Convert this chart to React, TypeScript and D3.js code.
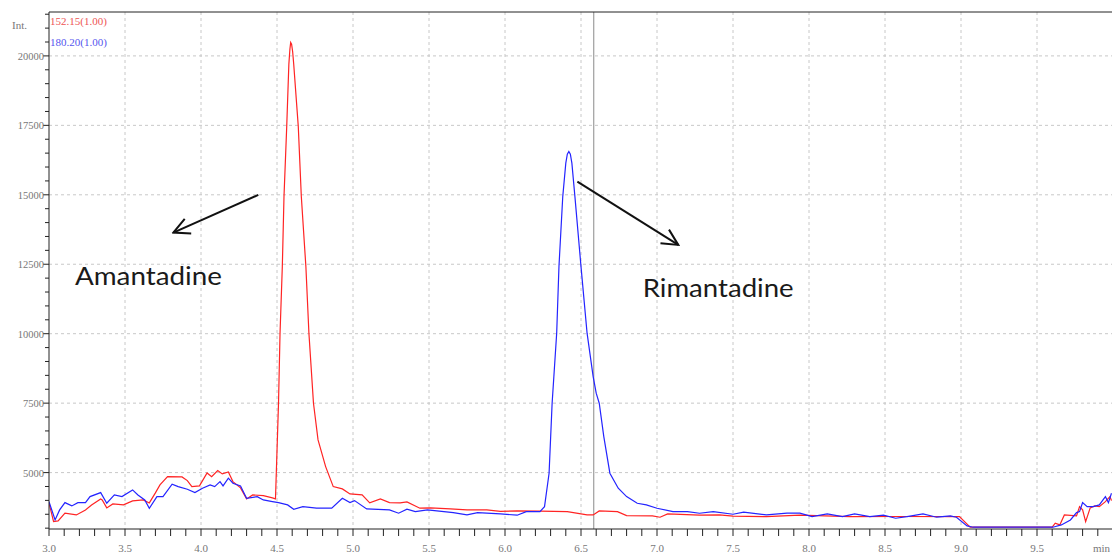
import React from "react";
import * as d3 from "d3";

// ---- data (time in min, intensity) ----
const redTime = [3.0,3.03,3.06,3.105,3.18,3.24,3.28,3.34,3.35,3.38,3.42,3.49,3.55,3.62,3.66,3.7,3.73,3.78,3.875,3.91,3.94,3.99,4.04,4.07,4.11,4.14,4.18,4.21,4.26,4.3,4.34,4.41,4.47,4.49,4.51,4.52,4.535,4.546,4.564,4.578,4.585,4.59,4.596,4.603,4.61,4.64,4.66,4.69,4.71,4.74,4.77,4.82,4.87,4.93,4.98,5.06,5.11,5.18,5.24,5.31,5.355,5.44,5.51,5.64,5.75,5.88,5.97,6.08,6.23,6.41,6.54,6.58,6.62,6.74,6.8,6.97,7.02,7.07,7.28,7.41,7.5,7.72,7.94,8.27,8.6,8.99,9.06,9.6,9.62,9.65,9.68,9.76,9.78,9.8,9.82,9.85,9.88,9.91,9.95,9.98,9.99];
const redInt = [3910,3236,3260,3538,3477,3657,3837,4053,4017,3729,3873,3837,3981,4017,3909,4269,4557,4856,4845,4712,4496,4521,4989,4856,5072,4953,5025,4676,4449,4053,4197,4172,4089,4053,7509,10029,12416,14936,17456,19700,20250,20480,20420,20150,19700,17456,14936,12416,10018,7498,6177,5216,4496,4413,4233,4197,3909,4053,3920,3909,3945,3718,3729,3693,3657,3657,3603,3621,3610,3596,3477,3477,3621,3596,3452,3441,3394,3513,3466,3477,3430,3416,3466,3416,3420,3416,3034,3034,3178,3117,3477,3441,3776,3657,3236,3729,3801,3776,3956,4136,3992];

const blueTime = [3.0,3.04,3.07,3.105,3.15,3.19,3.24,3.27,3.34,3.38,3.43,3.48,3.55,3.585,3.63,3.66,3.71,3.75,3.81,3.85,3.91,3.96,4.01,4.06,4.09,4.125,4.145,4.18,4.21,4.26,4.3,4.37,4.41,4.47,4.51,4.57,4.61,4.67,4.76,4.86,4.93,4.98,5.01,5.09,5.24,5.3,5.355,5.41,5.49,5.66,5.75,5.82,5.97,6.08,6.14,6.23,6.26,6.29,6.31,6.34,6.355,6.38,6.4,6.41,6.42,6.43,6.44,6.46,6.5,6.54,6.58,6.6,6.62,6.65,6.69,6.745,6.8,6.87,6.93,7.0,7.105,7.2,7.28,7.37,7.5,7.57,7.72,7.855,7.94,8.02,8.12,8.22,8.3,8.4,8.49,8.57,8.645,8.75,8.84,8.93,8.97,9.04,9.08,9.605,9.66,9.72,9.76,9.78,9.8,9.83,9.87,9.91,9.95,9.97,9.99];
const blueInt = [3956,3297,3657,3920,3801,3920,3920,4136,4280,3898,4197,4136,4377,4197,4017,3718,4136,4136,4582,4496,4402,4280,4438,4557,4496,4676,4521,4798,4618,4521,4078,4136,4017,3956,3920,3837,3682,3776,3718,3718,4078,3920,3992,3693,3657,3538,3682,3596,3657,3560,3477,3560,3513,3466,3596,3596,3776,4978,7498,10018,12416,14936,16138,16460,16556,16460,16138,14936,12416,10018,8456,7858,7498,6296,4978,4438,4136,3898,3837,3718,3596,3596,3538,3596,3502,3574,3477,3538,3538,3416,3513,3416,3513,3416,3466,3358,3416,3513,3394,3441,3394,3081,3034,3034,3117,3297,3560,3596,3920,3776,3776,3837,4136,3920,4258];

const xTickValues = [3.0,3.5,4.0,4.5,5.0,5.5,6.0,6.5,7.0,7.5,8.0,8.5,9.0,9.5];
const yTickValues = [5000,7500,10000,12500,15000,17500,20000];
const seriesNames = ["152.15(1.00)", "180.20(1.00)"];
const cursorTime = 6.584;
const annotations = [
  { label: "Amantadine", from: [4.377, 14997], to: [3.818, 13640], text: [3.171, 11754], width: 147 },
  { label: "Rimantadine", from: [6.476, 15476], to: [7.14, 13196], text: [6.906, 11311], width: 151 },
];

const W = 1112, H = 556;
const L = 49, T = 12, B = 529, R = 1113;

export default function App() {
  const x = d3.scaleLinear().domain([3, 10]).range([L, R]);
  const y = d3.scaleLinear().domain([2970, 21580]).range([B, T]);
  const line = d3.line<[number, number]>().x(d => x(d[0])).y(d => y(d[1]));
  const red = redTime.map((t, i) => [t, redInt[i]] as [number, number]);
  const blue = blueTime.map((t, i) => [t, blueInt[i]] as [number, number]);
  const minorX = d3.range(30, 100).map(v => v / 10);
  const minorY = d3.range(3000, 21600, 500);
  const serif = "'Liberation Serif', 'DejaVu Serif', serif";
  const grid = "#c8c8c8";

  return (
    <svg width={W} height={H} style={{ position: "absolute", left: 0, top: 0, background: "#fff" }}>
      <defs>
        <marker id="arr" viewBox="0 0 20 20" refX="18" refY="10" markerWidth="20" markerHeight="20" markerUnits="userSpaceOnUse" orient="auto">
          <path d="M2,2 L18,10 L2,18" fill="none" stroke="#111" strokeWidth="2" />
        </marker>
        <clipPath id="plotclip"><rect x={L} y={T} width={R - L} height={B - T} /></clipPath>
      </defs>
      <rect x={0} y={0} width={W} height={H} fill="#fff" />
      {xTickValues.slice(1).map(t => (
        <line key={"gx" + t} x1={x(t)} x2={x(t)} y1={T} y2={B} stroke={grid} strokeDasharray="3,3" />
      ))}
      {yTickValues.map(v => (
        <line key={"gy" + v} x1={L} x2={W} y1={y(v)} y2={y(v)} stroke={grid} strokeDasharray="3,3" />
      ))}
      <line x1={x(cursorTime)} x2={x(cursorTime)} y1={T} y2={B} stroke="#8a8a8a" strokeWidth={1} />
      <g clipPath="url(#plotclip)">
        <path d={line(red) || ""} fill="none" stroke="#ff2424" strokeWidth={1.2} />
        <path d={line(blue) || ""} fill="none" stroke="#2424ff" strokeWidth={1.2} />
      </g>
      <line x1={L} x2={W} y1={T} y2={T} stroke="#222" />
      <line x1={L} x2={L} y1={T} y2={B} stroke="#222" />
      <line x1={L} x2={W} y1={B} y2={B} stroke="#222" />
      {minorX.map(t => (
        <line key={"tx" + t} x1={x(t)} x2={x(t)} y1={B} y2={B + 7} stroke="#222" />
      ))}
      {minorY.map(v => (
        <line key={"ty" + v} x1={L - (v % 2500 === 0 ? 6 : 4)} x2={L} y1={y(v)} y2={y(v)} stroke="#222" />
      ))}
      {xTickValues.map(t => (
        <text key={"lx" + t} x={x(t)} y={552} textAnchor="middle" fontFamily={serif} fontSize={11} fill="#777">{t.toFixed(1)}</text>
      ))}
      <text x={1093} y={552} fontFamily={serif} fontSize={11} fill="#777">min</text>
      {yTickValues.map(v => (
        <text key={"ly" + v} x={44} y={y(v) + 4} textAnchor="end" fontFamily={serif} fontSize={10.5} fill="#777">{String(v)}</text>
      ))}
      <text x={12} y={29} fontFamily={serif} fontSize={11} fill="#777">Int.</text>
      <text x={50} y={25} fontFamily={serif} fontSize={11} fill="#ee5555">{seriesNames[0]}</text>
      <text x={50} y={46} fontFamily={serif} fontSize={11} fill="#5555ee">{seriesNames[1]}</text>
      {annotations.map(a => (
        <g key={a.label}>
          <line x1={x(a.from[0])} y1={y(a.from[1])} x2={x(a.to[0])} y2={y(a.to[1])} stroke="#111" strokeWidth={2} markerEnd="url(#arr)" />
          <text x={x(a.text[0])} y={y(a.text[1])} fontFamily="Lato, 'Open Sans', sans-serif" fontSize={25} fill="#1a1a1a"
            textLength={a.width} lengthAdjust="spacingAndGlyphs">{a.label}</text>
        </g>
      ))}
    </svg>
  );
}
